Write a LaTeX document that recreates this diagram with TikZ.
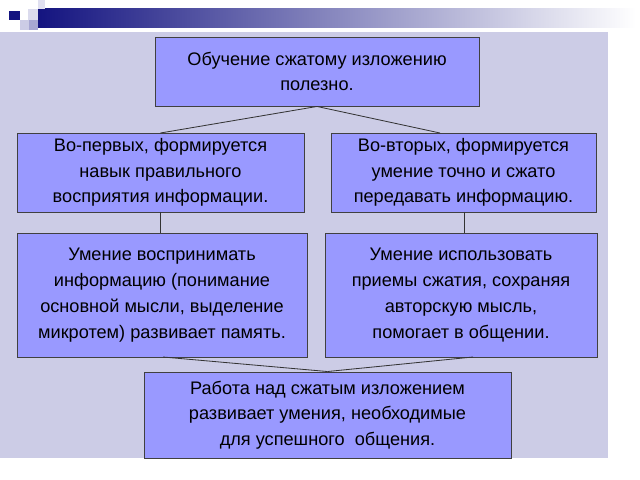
\documentclass[tikz,border=0pt]{standalone}
\usepackage{fontspec}
\setmainfont{Liberation Sans}
\definecolor{panel}{RGB}{204,204,230}
\definecolor{boxfill}{RGB}{153,153,255}
\definecolor{navy}{RGB}{20,20,128}
\begin{document}
\begin{tikzpicture}[
    x=0.03cm, y=-0.03cm,
    font=\fontsize{15.5}{22}\selectfont,
    % Style for the text boxes
    Slide/.style={
      draw=black!75,
      fill=boxfill,
      line width=0.8pt,
      align=center,
      inner sep=0pt
    },
    Link/.style={draw=black!80, line width=0.7pt}
  ]
  \useasboundingbox (0,0) rectangle (640,480);
  % Background
  \fill[white] (0,0) rectangle (640,480);
  \fill[panel] (0,32) rectangle (608,458);
  \shade[left color=navy, right color=white] (38,9) rectangle (636,28);
  \fill[navy] (9,11) rectangle (20,20);
  \fill[panel] (20,20) rectangle (30,30);
  \fill[panel!70] (28,9) rectangle (38,20);
  \fill[panel!80!navy] (29,20) rectangle (38,30);
  \fill[panel!60] (38,0) rectangle (45,9);

  % Boxes
  \node[Slide, minimum width=324*0.03cm, minimum height=69*0.03cm] (Top) at (317,71.5)
    {Обучение сжатому изложению\\полезно.};
  \node[Slide, minimum width=287*0.03cm, minimum height=79*0.03cm] (First) at (160.5,172.5)
    {Во-первых, формируется\\навык правильного\\восприятия информации.};
  \node[Slide, minimum width=265*0.03cm, minimum height=79*0.03cm] (Second) at (463.5,172.5)
    {Во-вторых, формируется\\умение точно и сжато\\передавать информацию.};
  \node[Slide, minimum width=290*0.03cm, minimum height=124*0.03cm] (Perceive) at (162,295)
    {Умение воспринимать\\информацию (понимание\\основной мысли, выделение\\микротем) развивает память.};
  \node[Slide, minimum width=272*0.03cm, minimum height=124*0.03cm] (Use) at (461,295)
    {Умение использовать\\приемы сжатия, сохраняя\\авторскую мысль,\\помогает в общении.};
  \node[Slide, minimum width=367*0.03cm, minimum height=86*0.03cm] (Work) at (327.5,415)
    {Работа над сжатым изложением\\развивает умения, необходимые\\для успешного\ \ общения.};

  % Connectors
  \draw[Link] (Top.south) -- (188,133 -| First.north);
  \draw[Link] (Top.south) -- (440,133);
  \draw[Link] (160,212) -- (160,233);
  \draw[Link] (464,212) -- (464,233);
  \draw[Link] (163,357) -- (Work.north);
  \draw[Link] (473,357) -- (Work.north);
\end{tikzpicture}
\end{document}
